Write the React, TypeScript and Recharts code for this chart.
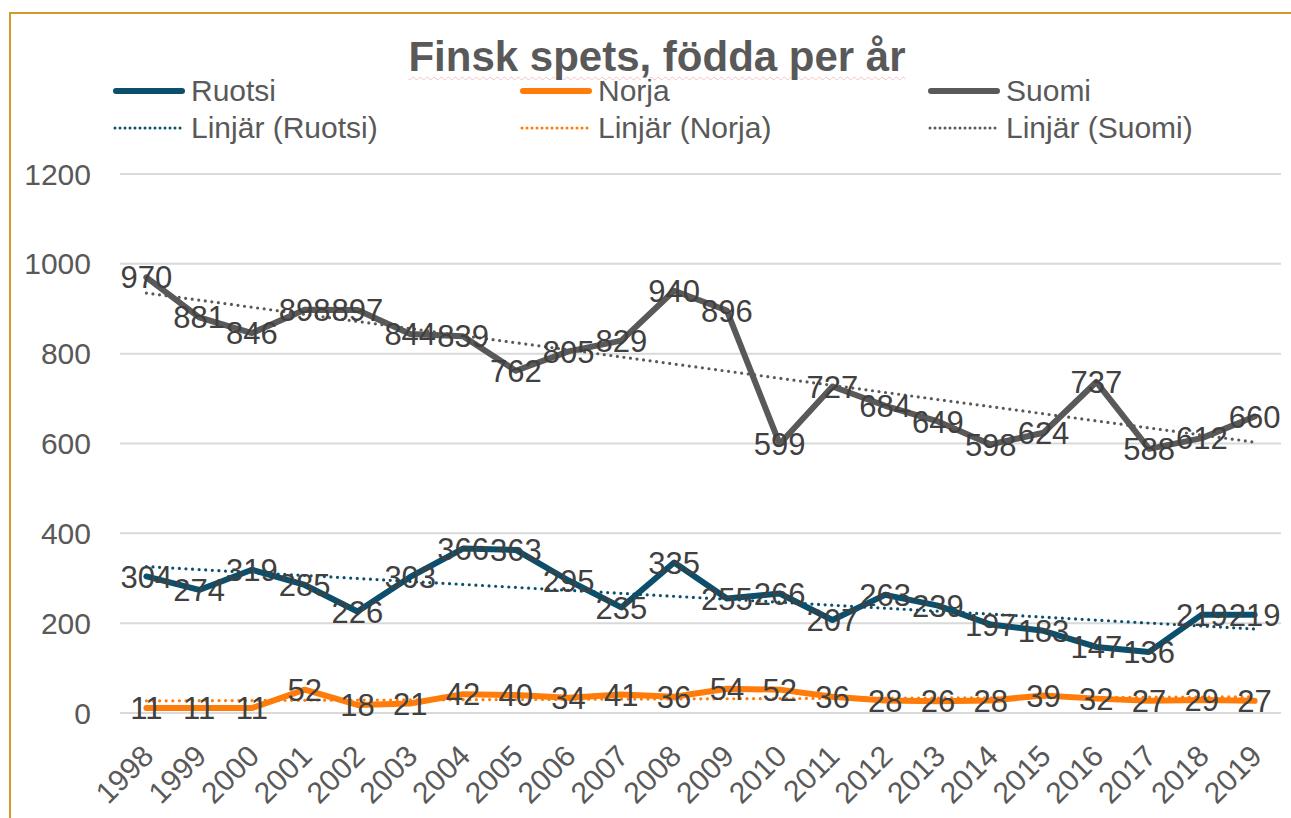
import React from 'react';
import { LineChart, Line, XAxis, YAxis, CartesianGrid, ReferenceLine, LabelList } from 'recharts';

const years = ['1998', '1999', '2000', '2001', '2002', '2003', '2004', '2005', '2006', '2007', '2008',
  '2009', '2010', '2011', '2012', '2013', '2014', '2015', '2016', '2017', '2018', '2019'];
const ruotsi = [304, 274, 319, 285, 226, 303, 366, 363, 295, 235, 335, 255, 266, 207, 263, 239, 197, 183, 147, 136, 219, 219];
const norja = [11, 11, 11, 52, 18, 21, 42, 40, 34, 41, 36, 54, 52, 36, 28, 26, 28, 39, 32, 27, 29, 27];
const suomi = [970, 881, 846, 898, 897, 844, 839, 762, 805, 829, 940, 896, 599, 727, 684, 649, 598, 624, 737, 588, 612, 660];

// trendline end values (first year, last year)
const ruotsiTrend = [326, 187];
const norjaTrend = [27, 36];
const suomiTrend = [935, 603];

const yTicks = [0, 200, 400, 600, 800, 1000, 1200];

const data = years.map((year, i) => ({ year, ruotsi: ruotsi[i], norja: norja[i], suomi: suomi[i] }));

const FONT = '"Liberation Sans", Arial, sans-serif';
const BLUE = '#0B4F6C';
const ORANGE = '#FF7C0A';
const GREY = '#595959';

const legendRows = [
  [
    { name: 'Ruotsi', color: BLUE, dotted: false },
    { name: 'Norja', color: ORANGE, dotted: false },
    { name: 'Suomi', color: GREY, dotted: false },
  ],
  [
    { name: 'Linjär (Ruotsi)', color: BLUE, dotted: true },
    { name: 'Linjär (Norja)', color: ORANGE, dotted: true },
    { name: 'Linjär (Suomi)', color: GREY, dotted: true },
  ],
];
const legendCols = [113, 520, 928];
const legendRowY = [91, 128];

const renderLabel = (props: any) => {
  const { x, y, value } = props;
  return (
    <text x={x} y={y} dy="0.36em" textAnchor="middle" fill="#404040" fontSize={31} fontFamily={FONT}>
      {value}
    </text>
  );
};

const XTick = (props: any) => {
  const { x, y, payload } = props;
  const ax = x + 9;
  const ay = y + 45;
  return (
    <text x={ax} y={ay} transform={`rotate(-45, ${ax}, ${ay})`} textAnchor="end" fill={GREY} fontSize={30} fontFamily={FONT}>
      {payload.value}
    </text>
  );
};

const trend = (vals: number[], color: string) => (
  <ReferenceLine
    segment={[{ x: years[0], y: vals[0] }, { x: years[years.length - 1], y: vals[1] }]}
    stroke={color}
    strokeWidth={3.2}
    strokeDasharray="0 6.6"
    strokeLinecap="round"
  />
);

const App: React.FC = () => {
  return (
    <div style={{ position: 'absolute', left: 0, top: 0, width: 1291, height: 818, background: '#fff', overflow: 'hidden', fontFamily: FONT }}>
      <div style={{ position: 'absolute', left: 9, top: 12, width: 1300, height: 830, border: '2px solid #D09B2C', boxSizing: 'border-box' }} />

      <div style={{
        position: 'absolute', left: 0, width: 1314, top: 32, textAlign: 'center', fontSize: 42, fontWeight: 'bold', color: GREY,
        lineHeight: '50px',
      }}>
        <span style={{ textDecoration: 'underline wavy #F3C2C2', textDecorationThickness: 1, textUnderlineOffset: 5 }}>
          Finsk spets, födda per år
        </span>
      </div>

      {legendRows.map((row, r) =>
        row.map((item, c) => (
          <div key={item.name} style={{ position: 'absolute', left: legendCols[c], top: legendRowY[r] - 18, height: 36, display: 'flex', alignItems: 'center' }}>
            <svg width={72} height={12} style={{ marginRight: 6 }}>
              {item.dotted ? (
                <line x1={2} y1={6} x2={70} y2={6} stroke={item.color} strokeWidth={3} strokeDasharray="0 5" strokeLinecap="round" />
              ) : (
                <line x1={3} y1={6} x2={69} y2={6} stroke={item.color} strokeWidth={6} strokeLinecap="round" />
              )}
            </svg>
            <span style={{ fontSize: 30, color: GREY, whiteSpace: 'nowrap' }}>{item.name}</span>
          </div>
        ))
      )}

      <div style={{ position: 'absolute', left: 0, top: 0 }}>
        <LineChart width={1291} height={818} data={data} margin={{ top: 174, right: 10, left: 0, bottom: 0 }}>
          <CartesianGrid vertical={false} stroke="#D9D9D9" strokeWidth={2} />
          <XAxis
            dataKey="year"
            height={105}
            padding={{ left: 26.4, right: 26.4 }}
            axisLine={{ stroke: '#D9D9D9', strokeWidth: 2 }}
            tickLine={false}
            tickSize={0}
            tickMargin={0}
            interval={0}
            tick={<XTick />}
          />
          <YAxis
            width={120}
            domain={[0, 1200]}
            ticks={yTicks}
            axisLine={false}
            tickLine={false}
            tickSize={0}
            tickMargin={29}
            tick={{ fill: GREY, fontSize: 30, fontFamily: FONT }}
          />
          <Line dataKey="ruotsi" stroke={BLUE} strokeWidth={6} strokeLinejoin="round" strokeLinecap="round" dot={false} activeDot={false} isAnimationActive={false} />
          <Line dataKey="norja" stroke={ORANGE} strokeWidth={6} strokeLinejoin="round" strokeLinecap="round" dot={false} activeDot={false} isAnimationActive={false} />
          <Line dataKey="suomi" stroke={GREY} strokeWidth={6} strokeLinejoin="round" strokeLinecap="round" dot={false} activeDot={false} isAnimationActive={false} />
          {trend(ruotsiTrend, BLUE)}
          {trend(norjaTrend, ORANGE)}
          {trend(suomiTrend, GREY)}
          <Line dataKey="ruotsi" stroke="none" dot={false} activeDot={false} isAnimationActive={false}>
            <LabelList dataKey="ruotsi" content={renderLabel} />
          </Line>
          <Line dataKey="norja" stroke="none" dot={false} activeDot={false} isAnimationActive={false}>
            <LabelList dataKey="norja" content={renderLabel} />
          </Line>
          <Line dataKey="suomi" stroke="none" dot={false} activeDot={false} isAnimationActive={false}>
            <LabelList dataKey="suomi" content={renderLabel} />
          </Line>
        </LineChart>
      </div>
    </div>
  );
};

export default App;
